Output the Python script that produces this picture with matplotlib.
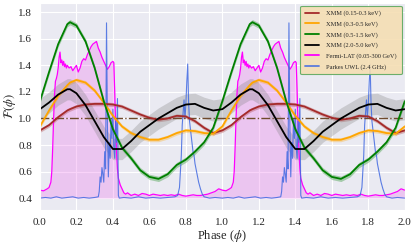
import numpy as np
import matplotlib
matplotlib.use("Agg")
import matplotlib.pyplot as plt
import seaborn as sns

sns.set_style("darkgrid")
plt.rcParams['font.family'] = ['Liberation Serif', 'DejaVu Serif']
plt.rcParams['mathtext.fontset'] = 'stix'

# one rotation of each profile, repeated for phase 1-2
xmm_phase = [0.00, 0.05, 0.10, 0.15, 0.165, 0.20, 0.25, 0.30, 0.35, 0.40, 0.45, 0.50,
             0.55, 0.60, 0.65, 0.70, 0.75, 0.80, 0.85, 0.90, 0.95, 1.00]
xmm_soft = [0.91, 0.95, 1.01, 1.06, 1.07, 1.09, 1.105, 1.11, 1.11, 1.105, 1.09, 1.06,
            1.03, 1.005, 0.99, 1.00, 1.02, 1.015, 0.98, 0.93, 0.89, 0.91]
xmm_low = [0.94, 1.06, 1.17, 1.25, 1.27, 1.29, 1.27, 1.21, 1.12, 1.02, 0.94, 0.89,
           0.86, 0.84, 0.84, 0.86, 0.89, 0.91, 0.905, 0.89, 0.885, 0.94]
xmm_mid = [1.13, 1.35, 1.56, 1.71, 1.725, 1.70, 1.58, 1.38, 1.13, 0.92, 0.78, 0.70,
           0.61, 0.56, 0.545, 0.58, 0.65, 0.69, 0.75, 0.82, 0.93, 1.13]
xmm_hard = [1.07, 1.12, 1.18, 1.22, 1.22, 1.19, 1.10, 0.98, 0.86, 0.77, 0.77, 0.83,
            0.90, 0.95, 1.00, 1.04, 1.08, 1.105, 1.11, 1.08, 1.06, 1.07]

lat_phase = [0.00, 0.02, 0.04, 0.05, 0.06, 0.065, 0.07, 0.075, 0.08, 0.085, 0.09, 0.095,
             0.10, 0.105, 0.11, 0.115, 0.12, 0.125, 0.13, 0.135, 0.14, 0.145, 0.15, 0.16,
             0.17, 0.18, 0.19, 0.20, 0.21, 0.22, 0.23, 0.24, 0.25, 0.26, 0.27, 0.28, 0.29,
             0.30, 0.31, 0.32, 0.33, 0.34, 0.35, 0.36, 0.37, 0.38, 0.39, 0.40, 0.405, 0.41,
             0.415, 0.42, 0.425, 0.43, 0.44, 0.45, 0.46, 0.47, 0.48, 0.50, 0.52, 0.54, 0.56,
             0.58, 0.60, 0.62, 0.64, 0.66, 0.68, 0.70, 0.72, 0.74, 0.76, 0.78, 0.80, 0.82,
             0.84, 0.86, 0.88, 0.90, 0.92, 0.94, 0.96, 0.98, 1.00]
lat_flux = [0.46, 0.455, 0.47, 0.48, 0.52, 0.60, 0.78, 1.00, 1.18, 1.28, 1.30, 1.33,
            1.38, 1.46, 1.50, 1.42, 1.44, 1.40, 1.43, 1.39, 1.41, 1.38, 1.40, 1.38,
            1.39, 1.36, 1.38, 1.40, 1.35, 1.38, 1.43, 1.45, 1.44, 1.48, 1.51, 1.54, 1.56,
            1.57, 1.58, 1.53, 1.50, 1.46, 1.43, 1.40, 1.37, 1.39, 1.42, 1.43, 1.42, 1.20,
            0.95, 0.75, 0.62, 0.55, 0.50, 0.47, 0.44, 0.43, 0.44, 0.42, 0.43, 0.42, 0.435,
            0.43, 0.42, 0.43, 0.425, 0.42, 0.425, 0.42, 0.425, 0.42, 0.43, 0.42, 0.415, 0.42,
            0.425, 0.42, 0.42, 0.425, 0.43, 0.44, 0.45, 0.47, 0.46]

uwl_phase = [0.00, 0.03, 0.06, 0.09, 0.12, 0.15, 0.18, 0.21, 0.24, 0.27, 0.30, 0.32,
             0.325, 0.33, 0.335, 0.34, 0.345, 0.35, 0.355, 0.36, 0.365, 0.37, 0.375, 0.38,
             0.385, 0.39, 0.395, 0.40, 0.405, 0.41, 0.415, 0.42, 0.425, 0.43, 0.435, 0.46,
             0.50, 0.54, 0.58, 0.62, 0.66, 0.70, 0.74, 0.755, 0.765, 0.775, 0.78, 0.785,
             0.79, 0.795, 0.80, 0.805, 0.81, 0.815, 0.82, 0.825, 0.83, 0.84, 0.845, 0.85,
             0.86, 0.87, 0.88, 0.89, 0.90, 0.93, 0.96, 1.00]
uwl_flux = [0.40, 0.405, 0.40, 0.41, 0.40, 0.405, 0.41, 0.40, 0.405, 0.40, 0.405, 0.41,
            0.45, 0.56, 0.52, 0.63, 0.58, 0.52, 0.75, 0.62, 1.72, 0.95, 0.56, 0.82,
            0.70, 1.00, 0.85, 1.07, 0.78, 0.70, 0.98, 0.82, 1.15, 0.42, 0.40, 0.405,
            0.40, 0.41, 0.40, 0.405, 0.40, 0.405, 0.41, 0.42, 0.48, 0.72, 0.95, 1.05,
            1.14, 1.00, 1.10, 1.28, 1.41, 1.12, 0.98, 0.92, 0.86, 0.74, 0.72, 0.66,
            0.59, 0.52, 0.47, 0.43, 0.41, 0.40, 0.405, 0.40]


def two_cycles(ph, val):
    ph = np.asarray(ph)
    val = np.asarray(val)
    return np.concatenate([ph, ph[1:] + 1]), np.concatenate([val, val[1:]])


fig = plt.figure(figsize=(4.16, 2.46), dpi=100)
ax = fig.add_axes([0.096, 0.146, 0.877, 0.842])

xp, lat = two_cycles(lat_phase, lat_flux)
ax.fill_between(xp, 0.4, lat, color='violet', alpha=0.35, lw=0)
ax.plot(xp, lat, color='magenta', lw=0.9, label='Fermi-LAT (0.05-300 GeV)')

xp, uwl = two_cycles(uwl_phase, uwl_flux)
ax.plot(xp, uwl, color='royalblue', lw=0.8, alpha=0.85, label='Parkes UWL (2.4 GHz)')

ax.axhline(1.0, color='#6e4a2c', ls='-.', lw=1.0)

bands = [(xmm_soft, 'brown', 0.015, 'XMM (0.15-0.3 keV)'),
         (xmm_low, 'orange', 0.015, 'XMM (0.3-0.5 keV)'),
         (xmm_mid, 'green', 0.02, 'XMM (0.5-1.5 keV)'),
         (xmm_hard, 'black', 0.08, 'XMM (2.0-5.0 keV)')]
for prof, col, err, lab in bands:
    xp, yv = two_cycles(xmm_phase, prof)
    fc = 'gray' if col == 'black' else col
    ax.fill_between(xp, yv - err, yv + err, color=fc, alpha=0.3, lw=0)
    ax.plot(xp, yv, color=col, lw=1.3, label=lab)

h, l = ax.get_legend_handles_labels()
order = [2, 3, 4, 5, 0, 1]
leg = ax.legend([h[i] for i in order], [l[i] for i in order], loc='upper right',
                fontsize=4.6, facecolor='wheat', edgecolor='#5ea85e', framealpha=0.9,
                handlelength=2.2, borderpad=0.7, labelspacing=0.75, handletextpad=1.2)
leg.get_frame().set_linewidth(0.8)
for line in leg.get_lines():
    line.set_linewidth(1.3)

ax.set_xlim(0, 2)
ax.set_ylim(0.31, 1.87)
ax.set_xticks(np.arange(0, 2.01, 0.2))
ax.set_yticks(np.arange(0.4, 1.81, 0.2))
ax.tick_params(labelsize=8, pad=2)
ax.set_xlabel(r'Phase ($\phi$)', fontsize=9, labelpad=1)
ax.set_ylabel(r'$\mathcal{F}(\phi)$', fontsize=9, labelpad=0)

fig.savefig('out.png', dpi=100)
